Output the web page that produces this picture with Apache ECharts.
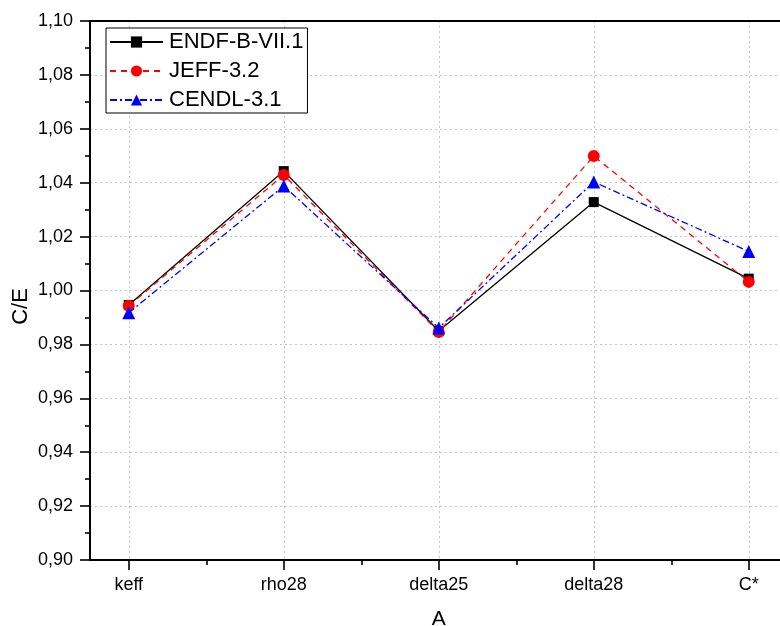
<!DOCTYPE html>
<html>
<head>
<meta charset="utf-8">
<script src="https://cdn.jsdelivr.net/npm/echarts@6/dist/echarts.min.js"></script>
<style>
  html, body { margin: 0; padding: 0; background: #fff; }
  #chart { width: 780px; height: 626px; }
</style>
</head>
<body>
<div id="chart"></div>
<script>
// Quantities compared (x positions 1..5)
const categories = ['keff', 'rho28', 'delta25', 'delta28', 'C*'];

// C/E ratios per evaluated library
const endfValues  = [0.9946, 1.0443, 0.9850, 1.0328, 1.0044];
const jeffValues  = [0.9943, 1.0429, 0.9846, 1.0499, 1.0032];
const cendlValues = [0.9917, 1.0388, 0.9861, 1.0403, 1.0145];

const seriesNames = ['ENDF-B-VII.1', 'JEFF-3.2', 'CENDL-3.1'];

const FONT = '"Liberation Sans", Arial, sans-serif';

function toPoints(values) {
  return values.map((v, i) => [i + 1, v]);
}

const chart = echarts.init(document.getElementById('chart'), null, { renderer: 'canvas' });

const majorX = categories.map((c, i) => i + 1);
const minorX = categories.slice(1).map((c, i) => i + 1.5);

chart.setOption({
  animation: false,
  backgroundColor: '#ffffff',
  grid: {
    left: 90,
    top: 21,
    width: 697.5,
    height: 539,
    containLabel: false,
    outerBoundsMode: 'none'
  },
  legend: {
    orient: 'vertical',
    left: 106,
    top: 28,
    padding: [3, 4, 2, 3],
    itemGap: 7,
    itemWidth: 53,
    itemHeight: 14,
    backgroundColor: '#fff',
    borderColor: '#000',
    borderWidth: 1,
    textStyle: { fontFamily: FONT, fontSize: 22, color: '#000', padding: [0, 0, 0, 1] },
    data: seriesNames
  },
  xAxis: [
    {
      type: 'value',
      min: 0.75,
      max: 5.25,
      name: 'A',
      nameLocation: 'middle',
      nameGap: 49,
      nameMoveOverlap: false,
      nameTextStyle: { fontFamily: FONT, fontSize: 21, color: '#000' },
      axisLine: { show: true, onZero: false, lineStyle: { color: '#000', width: 2 } },
      axisTick: { show: true, customValues: majorX, length: 10, lineStyle: { color: '#000', width: 1.6 } },
      axisLabel: {
        show: true,
        customValues: majorX,
        margin: 16,
        fontFamily: FONT,
        fontSize: 18,
        color: '#000',
        formatter: v => categories[Math.round(v) - 1] || ''
      },
      splitLine: { show: true, lineStyle: { color: '#c4c4c4', type: [2, 3], width: 1 } }
    },
    {
      // minor ticks between quantities
      type: 'value',
      min: 0.75,
      max: 5.25,
      position: 'bottom',
      axisLine: { show: false },
      axisTick: { show: true, customValues: minorX, length: 5, lineStyle: { color: '#000', width: 1.6 } },
      axisLabel: { show: false },
      splitLine: { show: false }
    },
    {
      // top frame line
      type: 'value',
      min: 0.75,
      max: 5.25,
      position: 'top',
      axisLine: { show: true, onZero: false, lineStyle: { color: '#000', width: 2 } },
      axisTick: { show: false },
      axisLabel: { show: false },
      splitLine: { show: false }
    }
  ],
  yAxis: {
    type: 'value',
    min: 0.90,
    max: 1.10,
    interval: 0.02,
    name: 'C/E',
    nameLocation: 'middle',
    nameRotate: 90,
    nameGap: 58,
    nameMoveOverlap: false,
    nameTextStyle: { fontFamily: FONT, fontSize: 22, color: '#000', padding: [0, 32, 0, 0] },
    axisLine: { show: true, lineStyle: { color: '#000', width: 2 } },
    axisTick: { show: true, length: 10, lineStyle: { color: '#000', width: 1.6 } },
    minorTick: { show: true, splitNumber: 2, length: 5, lineStyle: { color: '#000', width: 1.6 } },
    axisLabel: {
      margin: 17,
      fontFamily: FONT,
      fontSize: 18,
      color: '#000',
      formatter: v => v.toFixed(2).replace('.', ',')
    },
    splitLine: { show: true, lineStyle: { color: '#c4c4c4', type: [2, 3], width: 1 } }
  },
  series: [
    {
      name: seriesNames[0],
      type: 'line',
      data: toPoints(endfValues),
      symbol: 'rect',
      symbolSize: 10,
      itemStyle: { color: '#000' },
      lineStyle: { color: '#000', width: 1.3, type: 'solid' },
      z: 3
    },
    {
      name: seriesNames[1],
      type: 'line',
      data: toPoints(jeffValues),
      symbol: 'circle',
      symbolSize: 12,
      itemStyle: { color: '#ff0000' },
      lineStyle: { color: '#ff0000', width: 1.3, type: [6, 5] },
      z: 4
    },
    {
      name: seriesNames[2],
      type: 'line',
      data: toPoints(cendlValues),
      symbol: 'triangle',
      symbolSize: 13,
      itemStyle: { color: '#0000ff' },
      lineStyle: { color: '#0000ff', width: 1.3, type: [7, 3, 2, 3] },
      z: 5
    }
  ]
});
</script>
</body>
</html>
